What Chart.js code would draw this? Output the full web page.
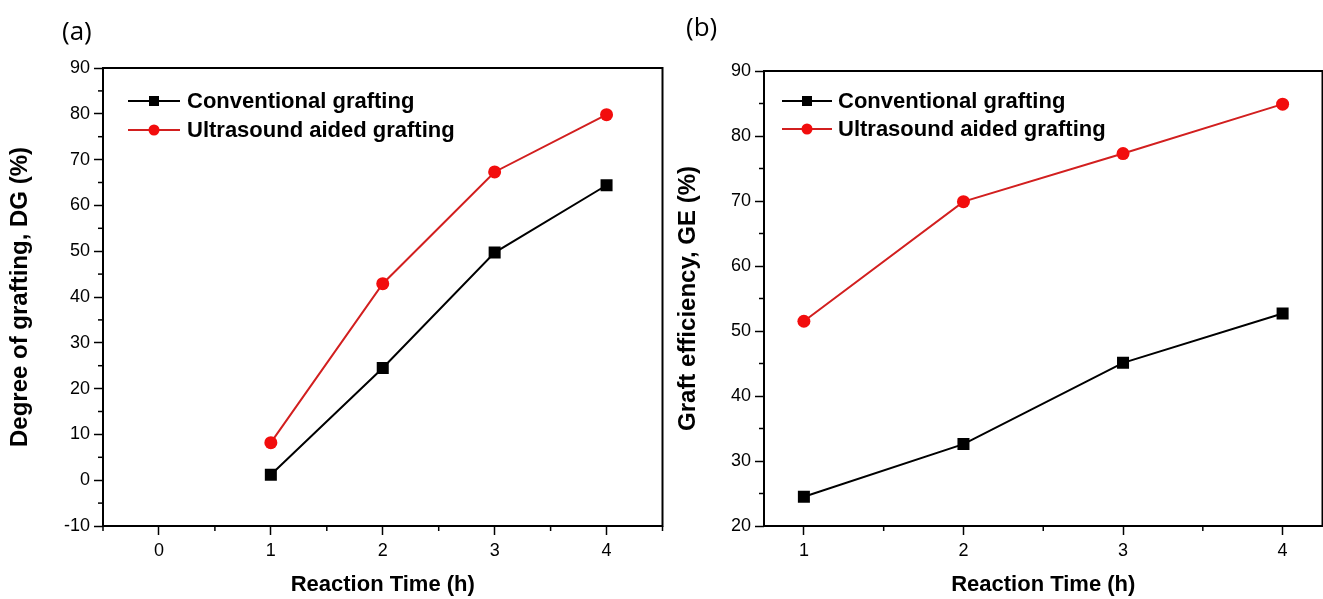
<!DOCTYPE html>
<html><head><meta charset="utf-8">
<script src="https://cdn.jsdelivr.net/npm/chart.js@4.4.0/dist/chart.umd.min.js"></script>
<style>
html,body{margin:0;padding:0;background:#fff;width:1323px;height:599px;overflow:hidden;}
.box{position:absolute;top:0;height:599px;}
.panel{position:absolute;font-family:'Open Sans',sans-serif;font-size:26px;color:#000;line-height:1;}
</style></head><body>
<div class="box" style="left:0;width:671px"><canvas id="c1"></canvas></div>
<div class="box" style="left:666px;width:665px"><canvas id="c2"></canvas></div>
<div class="panel" style="left:62px;top:17px">(a)</div>
<div class="panel" style="left:686px;top:13px">(b)</div>
<script>
// ---- data ----
const timeA = [1, 2, 3, 4];
const conventionalDG = [1.2, 24.5, 49.7, 64.4];
const ultrasoundDG = [8.2, 42.9, 67.3, 79.8];
const timeB = [1, 2, 3, 4];
const conventionalGE = [24.5, 32.6, 45.1, 52.7];
const ultrasoundGE = [51.5, 69.9, 77.3, 84.9];
const xTicksA = [0, 1, 2, 3, 4];
const xMinorA = [-0.5, 0.5, 1.5, 2.5, 3.5, 4.5];
const yTicksA = [-10, 0, 10, 20, 30, 40, 50, 60, 70, 80, 90];
const yMinorA = [-5, 5, 15, 25, 35, 45, 55, 65, 75, 85];
const xTicksB = [1, 2, 3, 4];
const xMinorB = [1.5, 2.5, 3.5];
const yTicksB = [20, 30, 40, 50, 60, 70, 80, 90];
const yMinorB = [25, 35, 45, 55, 65, 75, 85];
const seriesLabels = ['Conventional grafting', 'Ultrasound aided grafting'];
const xTitle = 'Reaction Time (h)';
const yTitleA = 'Degree of grafting, DG (%)';
const yTitleB = 'Graft efficiency, GE (%)';

const BLACK = '#000000';
const RED_LINE = '#d21f1f';
const RED_PT = '#f20d0d';
const FONT = "'Liberation Sans', Arial, sans-serif";

function pts(xs, ys) { return xs.map((x, i) => ({x: x, y: ys[i]})); }

const framePlugin = {
  id: 'frameMinor',
  beforeDatasetsDraw(chart, args, opts) {
    const ctx = chart.ctx, a = chart.chartArea;
    ctx.save();
    ctx.strokeStyle = BLACK;
    ctx.lineWidth = 1.5;
    const xs = chart.scales.x, ys = chart.scales.y;
    (opts.xMinor || []).forEach(v => {
      const p = xs.getPixelForValue(v);
      ctx.beginPath(); ctx.moveTo(p, a.bottom); ctx.lineTo(p, a.bottom + 5); ctx.stroke();
    });
    (opts.yMinor || []).forEach(v => {
      const p = ys.getPixelForValue(v);
      ctx.beginPath(); ctx.moveTo(a.left, p); ctx.lineTo(a.left - 5, p); ctx.stroke();
    });
    ctx.lineWidth = 2;
    ctx.strokeRect(a.left, a.top, a.right - a.left, a.bottom - a.top);
    ctx.restore();
  },
  afterDraw(chart, args, opts) {
    const ctx = chart.ctx, a = chart.chartArea;
    const lg = opts.legend;
    if (!lg) return;
    ctx.save();
    chart.data.datasets.forEach((ds, i) => {
      const y = a.top + lg.top + i * lg.gap;
      const x0 = a.left + lg.left;
      ctx.strokeStyle = ds.borderColor;
      ctx.lineWidth = 2;
      ctx.beginPath(); ctx.moveTo(x0, y); ctx.lineTo(x0 + lg.len, y); ctx.stroke();
      const cx = x0 + lg.len / 2;
      ctx.fillStyle = ds.pointBackgroundColor;
      if (ds.pointStyle === 'rect') {
        ctx.fillRect(cx - 5, y - 5, 10, 10);
      } else {
        ctx.beginPath(); ctx.arc(cx, y, 5.5, 0, Math.PI * 2); ctx.fill();
      }
      ctx.fillStyle = BLACK;
      ctx.font = 'bold ' + lg.size + 'px ' + FONT;
      ctx.textBaseline = 'middle';
      ctx.textAlign = 'left';
      ctx.fillText(ds.label, x0 + lg.len + lg.textGap, y + 1);
    });
    ctx.restore();
  }
};

function makeChart(id, cfg) {
  return new Chart(document.getElementById(id), {
    type: 'scatter',
    data: {
      datasets: [
        { label: seriesLabels[0], data: pts(cfg.time, cfg.conv), showLine: true,
          borderColor: BLACK, backgroundColor: BLACK, pointBackgroundColor: BLACK, pointBorderColor: BLACK,
          borderWidth: 2, pointStyle: 'rect', pointRadius: 8.5, pointBorderWidth: 0, pointHoverRadius: 8.5 },
        { label: seriesLabels[1], data: pts(cfg.time, cfg.ultra), showLine: true,
          borderColor: RED_LINE, backgroundColor: RED_PT, pointBackgroundColor: RED_PT, pointBorderColor: RED_PT,
          borderWidth: 2, pointStyle: 'circle', pointRadius: 6.5, pointBorderWidth: 0, pointHoverRadius: 6.5 }
      ]
    },
    options: {
      responsive: true, maintainAspectRatio: false, animation: false,
      layout: { padding: { top: cfg.top, right: cfg.right, left: 0, bottom: 0 } },
      plugins: {
        legend: { display: false }, tooltip: { enabled: false },
        frameMinor: { xMinor: cfg.xMinor, yMinor: cfg.yMinor, legend: cfg.legend }
      },
      scales: {
        x: {
          type: 'linear', min: cfg.xMin, max: cfg.xMax,
          afterBuildTicks: s => { s.ticks = cfg.xTicks.map(v => ({value: v})); },
          afterFit: s => { s.height = 73; s.paddingLeft = 0; s.paddingRight = 0; },
          ticks: { color: BLACK, font: { family: FONT, size: 18 }, padding: 5, maxRotation: 0, autoSkip: false,
                   callback: v => String(v) },
          grid: { display: true, drawOnChartArea: false, drawTicks: true, tickLength: 9, tickWidth: 1.5, tickColor: BLACK },
          border: { display: false },
          title: { display: true, text: xTitle, color: BLACK, font: { family: FONT, size: 22, weight: 'bold' },
                   padding: { top: 0, bottom: 1 } }
        },
        y: {
          type: 'linear', min: cfg.yMin, max: cfg.yMax,
          afterBuildTicks: s => { s.ticks = cfg.yTicks.map(v => ({value: v})); },
          afterFit: s => { s.width = cfg.yWidth; s.paddingTop = 0; s.paddingBottom = 0; },
          ticks: { color: BLACK, font: { family: FONT, size: 18 }, padding: 4, autoSkip: false,
                   callback: v => String(v) },
          grid: { display: true, drawOnChartArea: false, drawTicks: true, tickLength: 9, tickWidth: 1.5, tickColor: BLACK },
          border: { display: false },
          title: { display: true, text: cfg.yTitle, color: BLACK, font: { family: FONT, size: 24, weight: 'bold' },
                   padding: { top: cfg.titlePad, bottom: 0 } }
        }
      }
    },
    plugins: [framePlugin]
  });
}

makeChart('c1', {
  time: timeA, conv: conventionalDG, ultra: ultrasoundDG,
  xMin: -0.5, xMax: 4.5, yMin: -10, yMax: 90,
  xTicks: xTicksA, yTicks: yTicksA, xMinor: xMinorA, yMinor: yMinorA,
  top: 68, right: 4, yWidth: 103, titlePad: 6, yTitle: yTitleA,
  legend: { left: 25, top: 33, gap: 29, len: 52, textGap: 7, size: 22 }
});
makeChart('c2', {
  time: timeB, conv: conventionalGE, ultra: ultrasoundGE,
  xMin: 0.75, xMax: 4.25, yMin: 20, yMax: 90,
  xTicks: xTicksB, yTicks: yTicksB, xMinor: xMinorB, yMinor: yMinorB,
  top: 71, right: 1, yWidth: 98, titlePad: 8, yTitle: yTitleB,
  legend: { left: 18, top: 30, gap: 28, len: 50, textGap: 6, size: 22 }
});
</script>
</body></html>
